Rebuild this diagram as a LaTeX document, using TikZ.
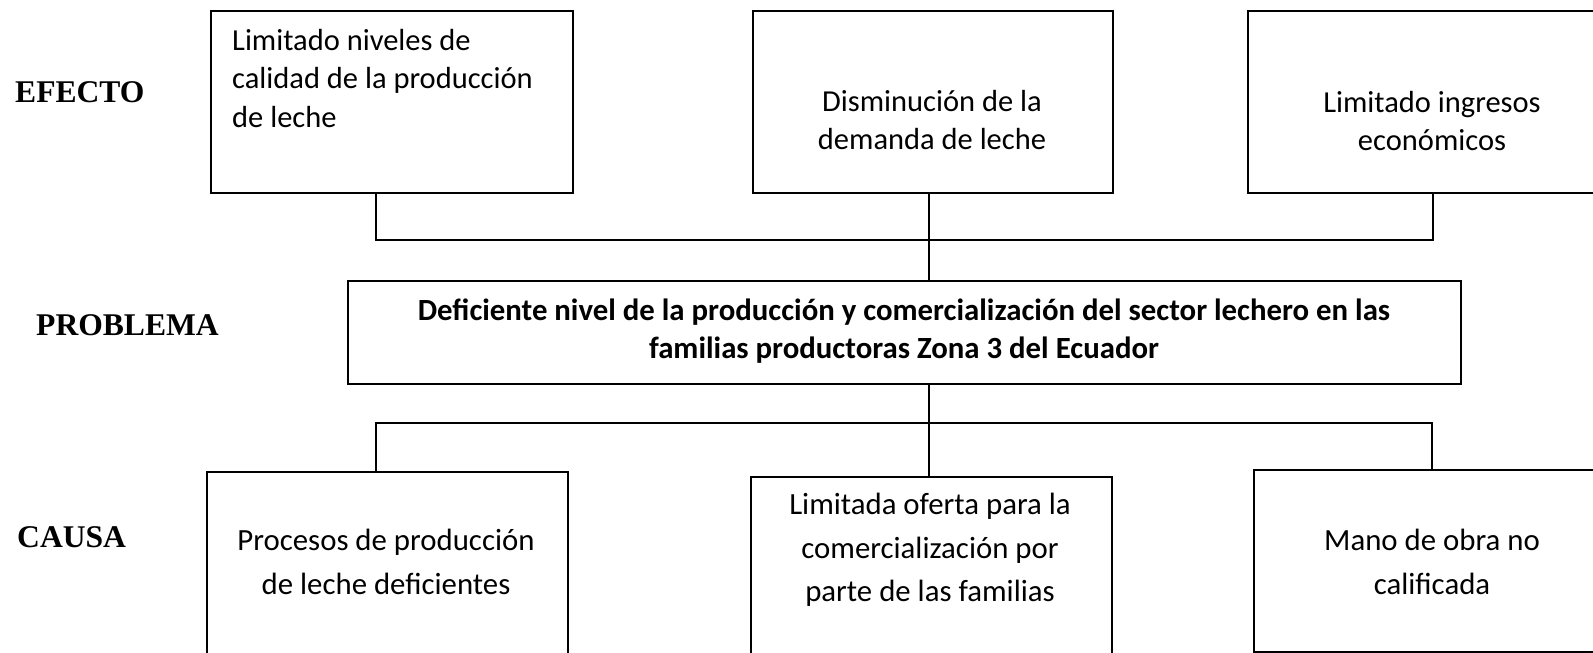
\documentclass[tikz,border=0pt]{standalone}
\usepackage{fontspec}
\setmainfont{Carlito}
\newfontfamily\labelfont{Liberation Serif}
\begin{document}
\begin{tikzpicture}[x=1pt,y=-1pt,
  box/.style={draw=black,line width=1.8pt,rectangle,inner sep=0pt,anchor=north west},
  boxtext/.style={inner sep=0pt,font=\fontsize{30.5}{38.5}\selectfont},
  causetext/.style={inner sep=0pt,font=\fontsize{30.8}{43.5}\selectfont},
  rowlabel/.style={inner sep=0pt,anchor=west,font=\labelfont\bfseries\fontsize{31.6}{38}\selectfont},
  link/.style={draw=black,line width=1.8pt}]
\useasboundingbox (0,0) rectangle (1593,653);
\clip (0,0) rectangle (1593,653);

% row labels
\node[rowlabel] (lefecto) at (15,92) {EFECTO};
\node[rowlabel] (lproblema) at (36,325) {PROBLEMA};
\node[rowlabel] (lcausa) at (17,537) {CAUSA};

% effect boxes
\node[box,minimum width=362pt,minimum height=182pt] (e1) at (210,10) {};
\node[box,minimum width=360pt,minimum height=182pt] (e2) at (752,10) {};
\node[box,minimum width=370pt,minimum height=182pt] (e3) at (1247,10) {};

\node[boxtext,align=left,anchor=north west] (te1) at (232,29)
  {Limitado niveles de\\calidad de la producción\\de leche};
\node[boxtext,align=center] (te2) at (932,120) {Disminución de la\\demanda de leche};
\node[boxtext,align=center] (te3) at (1432,121) {Limitado ingresos\\económicos};

% central problem
\node[box,minimum width=1113pt,minimum height=103pt] (p) at (347,280) {};
\node[boxtext,align=center,font=\bfseries\fontsize{30.8}{37.5}\selectfont] (tp) at (904,331)
  {Deficiente nivel de la producción y comercialización del sector lechero en las\\familias productoras Zona 3 del Ecuador};

% cause boxes
\node[box,minimum width=361pt,minimum height=200pt] (c1) at (206,471) {};
\node[box,minimum width=361pt,minimum height=200pt] (c2) at (750,476) {};
\node[box,minimum width=370pt,minimum height=182pt] (c3) at (1253,469) {};

\node[causetext,align=center] (tc1) at (386,562) {Procesos de producción\\de leche deficientes};
\node[causetext,align=center] (tc2) at (930,550) {Limitada oferta para la\\comercialización por\\parte de las familias};
\node[causetext,align=center] (tc3) at (1432,562) {Mano de obra no\\calificada};

% junction points of the connector bars
\coordinate (ja) at (376,240);
\coordinate (jb) at (376,423);

% effect connectors
\draw[link] (e1.south -| ja) -- (ja) -- (ja -| e3.south) -- (e3.south);
\draw[link] (e2.south -| 929,0) -- (p.north -| 929,0);

% cause connectors
\draw[link] (p.south -| 929,0) -- (c2.north -| 929,0);
\draw[link] (c1.north -| jb) -- (jb) -- (jb -| 1432,0) -- ([yshift=-2pt]c3.north -| 1432,0);
\end{tikzpicture}
\end{document}
